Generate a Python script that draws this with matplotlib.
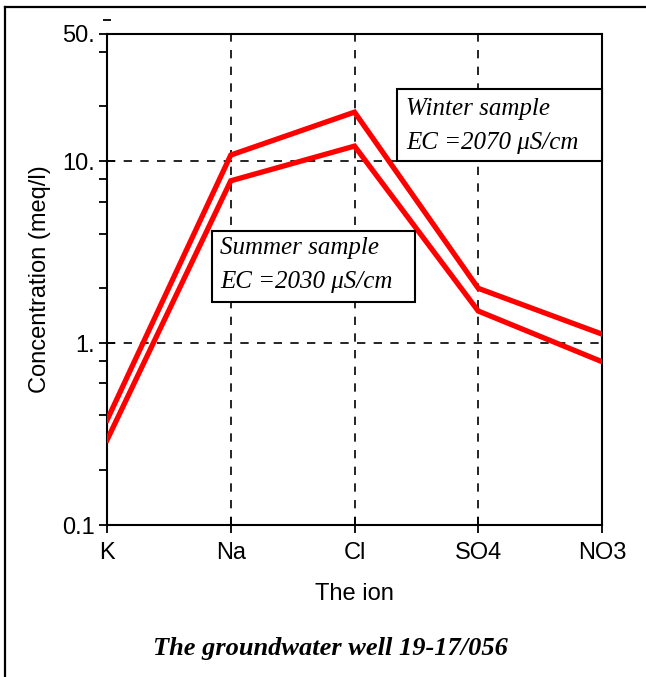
import numpy as np
import matplotlib.pyplot as plt
from matplotlib.lines import Line2D
from matplotlib.patches import Rectangle
from matplotlib.ticker import FixedLocator, NullFormatter

# datos
iones = ["K", "Na", "Cl", "SO4", "NO3"]
invierno = [0.377, 10.8, 18.6, 2.0, 1.12]
verano = [0.293, 7.8, 12.1, 1.5, 0.79]

y_mayores = [0.1, 1, 10, 50]
y_etiquetas = ["0.1", "1.", "10.", "50."]
y_menores = [0.2, 0.4, 0.6, 0.8, 2, 4, 6, 8, 20, 40]

fig = plt.figure(figsize=(6.46, 6.77), dpi=100)
ax = fig.add_axes([107/646, 1-525/677, 495/646, 491/677])

x = np.arange(len(iones))
ax.plot(x, invierno, '-', color='#ff0000', lw=3.8, solid_joinstyle='miter', zorder=3)
ax.plot(x, verano, '-', color='#ff0000', lw=3.8, solid_joinstyle='miter', zorder=3)

ax.set_yscale('log')
ax.set_ylim(0.1, 50)
ax.set_xlim(0, 4)

ax.yaxis.set_major_locator(FixedLocator(y_mayores))
ax.set_yticklabels(y_etiquetas)
ax.yaxis.set_minor_locator(FixedLocator(y_menores))
ax.yaxis.set_minor_formatter(NullFormatter())
ax.set_xticks(x)
ax.set_xticklabels(iones)

ax.tick_params(axis='both', which='major', direction='inout', length=12, width=1.3,
               labelsize=17, colors='black')
ax.tick_params(axis='x', pad=6)
ax.tick_params(axis='y', pad=3)
ax.tick_params(axis='y', which='minor', direction='out', length=6, width=1.3)
for lab in ax.get_xticklabels() + ax.get_yticklabels():
    lab.set_family('Liberation Sans')

for s in ax.spines.values():
    s.set_linewidth(1.5)

# rejilla punteada
for xi in x[1:-1]:
    ax.axvline(xi, color='black', ls=(0, (5, 5)), lw=1.2, zorder=1)
for yi in [1, 10]:
    ax.axhline(yi, color='black', ls=(0, (5, 5)), lw=1.2, zorder=1)

ax.set_xlabel("The ion", family='Liberation Sans', fontsize=17, labelpad=14)
ax.set_ylabel("Concentration (meq/l)", family='Liberation Sans', fontsize=17, labelpad=8)

# cajas de texto
ax.add_patch(Rectangle((0.586, 0.741), 0.414, 0.147, transform=ax.transAxes,
                       fc='white', ec='black', lw=1.5, zorder=4, clip_on=False))
ax.text(0.604, 0.848, "Winter sample", transform=ax.transAxes, family='Liberation Serif',
        style='italic', fontsize=18, va='center', ha='left', zorder=5)
ax.text(0.604, 0.779, "EC =2070 \u03bcS/cm", transform=ax.transAxes, family='Liberation Serif',
        style='italic', fontsize=18, va='center', ha='left', zorder=5)

ax.add_patch(Rectangle((0.212, 0.454), 0.410, 0.145, transform=ax.transAxes,
                       fc='white', ec='black', lw=1.5, zorder=4, clip_on=False))
ax.text(0.228, 0.565, "Summer sample", transform=ax.transAxes, family='Liberation Serif',
        style='italic', fontsize=18, va='center', ha='left', zorder=5)
ax.text(0.228, 0.494, "EC =2030 \u03bcS/cm", transform=ax.transAxes, family='Liberation Serif',
        style='italic', fontsize=18, va='center', ha='left', zorder=5)

# marca suelta arriba del eje
ax.plot([0], [60], marker='_', color='black', ms=6, mew=1.3, clip_on=False)

fig.text(330/646, 1-648/677, "The groundwater well 19-17/056", family='Liberation Serif',
         style='italic', weight='bold', fontsize=19, ha='center', va='center')

# marco exterior
fig.add_artist(Line2D([5/646, 5/646], [0, 1-7/677], color='black', lw=1.6))
fig.add_artist(Line2D([5/646, 1], [1-7/677, 1-7/677], color='black', lw=1.6))

fig.savefig("out.png", dpi=100)
